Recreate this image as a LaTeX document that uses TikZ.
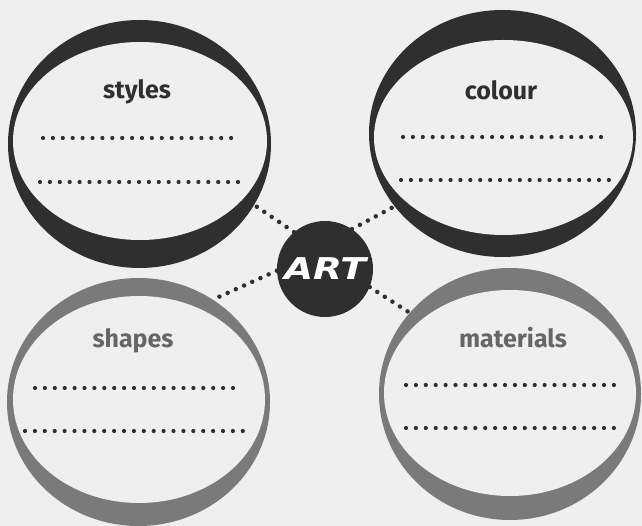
\documentclass[tikz,border=0pt]{standalone}
\usepackage{fontspec}
\setmainfont{Fira Sans}
\newfontfamily\artfont{DejaVu Sans}
\usetikzlibrary{shapes.geometric}

\definecolor{paper}{HTML}{EFEFEF}
\definecolor{darkring}{HTML}{2F2F2F}
\definecolor{greyring}{HTML}{7A7A7A}
\definecolor{greytext}{HTML}{666666}

\tikzset{
  ring/.style={ellipse, inner sep=0pt, fill=#1},
  hole/.style={ellipse, inner sep=0pt, fill=paper},
  title/.style={font=\fontsize{25}{30}\selectfont\bfseries},
  blank/.style={darkring, line width=4.2pt, line cap=round, dash pattern=on 0pt off 9.9pt},
  link/.style={darkring, line width=4.5pt, line cap=round, dash pattern=on 0pt off 9pt},
}

\begin{document}
\begin{tikzpicture}[x=1pt, y=-1pt]
    \useasboundingbox (0,0) rectangle (642,526);
    \fill[paper] (0,0) rectangle (642,526);

    % 1. Bong bong tren trai: styles
    \node[ring=darkring, minimum width=263pt, minimum height=248pt] (styles) at (139.5,144) {};
    \node[hole, minimum width=254pt, minimum height=198pt] (styleshole) at (140,141) {};
    \node[title, text=darkring] (stylestitle) at (137,92) {styles};
    \draw[blank] (43,138) -- (233,138);
    \draw[blank] (40,182) -- (240,182);

    % 2. Bong bong tren phai: colour
    \node[ring=darkring, minimum width=267pt, minimum height=247pt] (colour) at (502.5,133.5) {};
    \node[hole, minimum width=259pt, minimum height=195pt] (colourhole) at (503.5,137.5) {};
    \node[title, text=darkring] (colourtitle) at (501,90) {colour};
    \draw[blank] (403,137) -- (603,137);
    \draw[blank] (401,180) -- (610,180);

    % 3. Bong bong duoi trai: shapes
    \node[ring=greyring, minimum width=263pt, minimum height=248pt] (shapes) at (138.5,402) {};
    \node[hole, minimum width=252pt, minimum height=207pt] (shapeshole) at (139,399.5) {};
    \node[title, text=greytext] (shapestitle) at (133,341) {shapes};
    \draw[blank] (35,388) -- (241,388);
    \draw[blank] (25,431) -- (251,431);

    % 4. Bong bong duoi phai: materials
    \node[ring=greyring, minimum width=262pt, minimum height=252pt] (materials) at (510,394) {};
    \node[hole, minimum width=252pt, minimum height=206pt] (materialshole) at (510,393) {};
    \node[title, text=greytext] (materialstitle) at (513,338) {materials};
    \draw[blank] (406,385) -- (617,385);
    \draw[blank] (406,428) -- (617,428);

    % 5. Hinh tron giua va cac duong cham
    \node[circle, fill=darkring, minimum size=96pt, inner sep=0pt] (art) at (325,269)
        {\artfont\bfseries\itshape\fontsize{30}{30}\selectfont\color{white}\scalebox{1.25}[1]{ART}};
    \draw[link] (art.130) -- (styles.-28);
    \draw[link] (art.56) -- (colour.-146);
    \draw[link] (art.182) -- (shapes.54);
    \draw[link] (art.-22) -- (materials.141);
\end{tikzpicture}
\end{document}
